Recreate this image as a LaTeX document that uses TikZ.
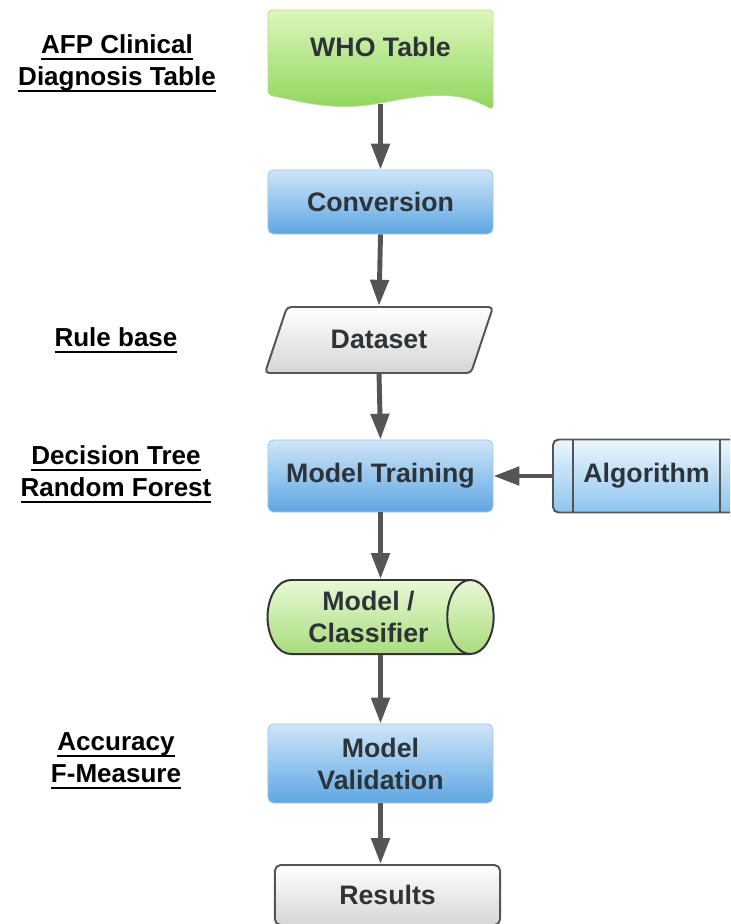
\documentclass[tikz,border=0pt]{standalone}
\usepackage{fontspec}
\setmainfont{Liberation Sans}
\usetikzlibrary{arrows.meta,shapes.geometric}

\definecolor{arrgray}{HTML}{555555}
\definecolor{txtgray}{HTML}{2E3338}
\definecolor{greentop}{HTML}{DDF6BE}
\definecolor{greenbot}{HTML}{8ED65A}
\definecolor{greenedge}{HTML}{B3E08C}
\definecolor{bluetop}{HTML}{CFE5F8}
\definecolor{bluebot}{HTML}{5EA6E2}
\definecolor{blueedge}{HTML}{9FC8EC}
\definecolor{cyltop}{HTML}{E9F8D6}
\definecolor{cylbot}{HTML}{A8DD7C}
\definecolor{algotop}{HTML}{EDF6FD}
\definecolor{algobot}{HTML}{8CC5EE}
\definecolor{graybot}{HTML}{D6D6D6}
\definecolor{edgegray}{HTML}{555555}

\newcommand{\ulabel}[1]{\setbox0\hbox{#1}\rlap{\rule[-4.5pt]{\wd0}{1.4pt}}\box0}

\begin{document}
\begin{tikzpicture}[x=0.025cm, y=-0.025cm,
    txt/.style={font=\fontsize{19}{22.7}\selectfont\bfseries, text=txtgray,
                align=center, inner sep=0pt},
    box/.style={txt, minimum width=5.625cm, rounded corners=4pt},
    bluebox/.style={box, top color=bluetop, bottom color=bluebot,
                    draw=blueedge, line width=0.6pt},
    algobox/.style={box, minimum width=4.675cm, minimum height=1.825cm,
                    top color=algotop, bottom color=algobot,
                    draw=edgegray, line width=1.4pt,
                    path picture={
                      \draw[edgegray, line width=1.4pt]
                        ([xshift=0.5cm]path picture bounding box.north west)
                        -- ([xshift=0.5cm]path picture bounding box.south west)
                        ([xshift=-0.5cm]path picture bounding box.north east)
                        -- ([xshift=-0.5cm]path picture bounding box.south east);}},
    cylbox/.style={txt, cylinder, shape border rotate=0, aspect=0.9,
                   minimum width=1.85cm, minimum height=5.65cm,
                   top color=cyltop, bottom color=cylbot,
                   draw=black!80, line width=1.4pt},
    resbox/.style={box, minimum height=1.5cm, top color=white,
                   bottom color=graybot, draw=edgegray, line width=1.4pt},
    arr/.style={-{Triangle[length=18.4pt, width=12.8pt]}, line width=3.5pt,
                draw=arrgray},
    lbl/.style={font=\fontsize{18.5}{22.7}\selectfont\bfseries, text=black,
                align=center, inner sep=0pt},
]
\useasboundingbox (0,0) rectangle (730,924);
\clip (0,0) rectangle (730,924);

% Shapes drawn directly
\shade[top color=greentop, bottom color=greenbot, draw=greenedge,
       line width=0.6pt, rounded corners=3pt]
  (268,95) -- (268,10) -- (493,10) -- (493,110)
  .. controls (455,88) and (420,96) .. (375,104)
  .. controls (330,111) and (295,100) .. (268,95) -- cycle;
\shade[top color=white, bottom color=graybot, draw=edgegray,
       line width=1.4pt, rounded corners=3pt]
  (265,373) -- (287,307) -- (493,307) -- (471,373) -- cycle;

% Nodes
\node[txt, minimum width=5.625cm, minimum height=2.35cm,
      text height=8pt, text depth=8pt] (who) at (380.5,57) {WHO Table};
\node[bluebox, minimum height=1.6cm]   (conv)  at (380.5,202) {Conversion};
\node[txt, minimum width=4cm, minimum height=1.65cm] (data) at (379,339) {Dataset};
\node[bluebox, minimum height=1.8cm]   (train) at (380.5,476) {Model Training};
\node[algobox]                         (algo)  at (646.5,476) {Algorithm};
\node[cylbox]                          (model) at (368.5,617) {Model /\\Classifier};
\node[bluebox, minimum height=1.975cm] (valid) at (380.5,763.5) {Model\\Validation};
\node[resbox]                          (res)   at (387.5,895) {Results};

% Side labels
\node[lbl] (afp)  at (117,63)    {\ulabel{AFP Clinical}\\\ulabel{Diagnosis Table}};
\node[lbl] (rule) at (116,340)   {\ulabel{Rule base}};
\node[lbl] (tree) at (116,474.5) {\ulabel{Decision Tree}\\\ulabel{Random Forest}};
\node[lbl] (acc)  at (116,761)   {\ulabel{Accuracy}\\\ulabel{F-Measure}};

% Connectors
\draw[arr] (who.south) -- (conv.north);
\draw[arr] (conv.south) -- (data.north);
\draw[arr] (data.south) -- (train.north);
\draw[arr] (algo.west) -- (train.east);
\draw[arr] (train.south) -- (train.south |- model.north);
\draw[arr] (train.south |- model.south) -- (valid.north);
\draw[arr] (valid.south) -- (valid.south |- res.north);

\end{tikzpicture}
\end{document}
